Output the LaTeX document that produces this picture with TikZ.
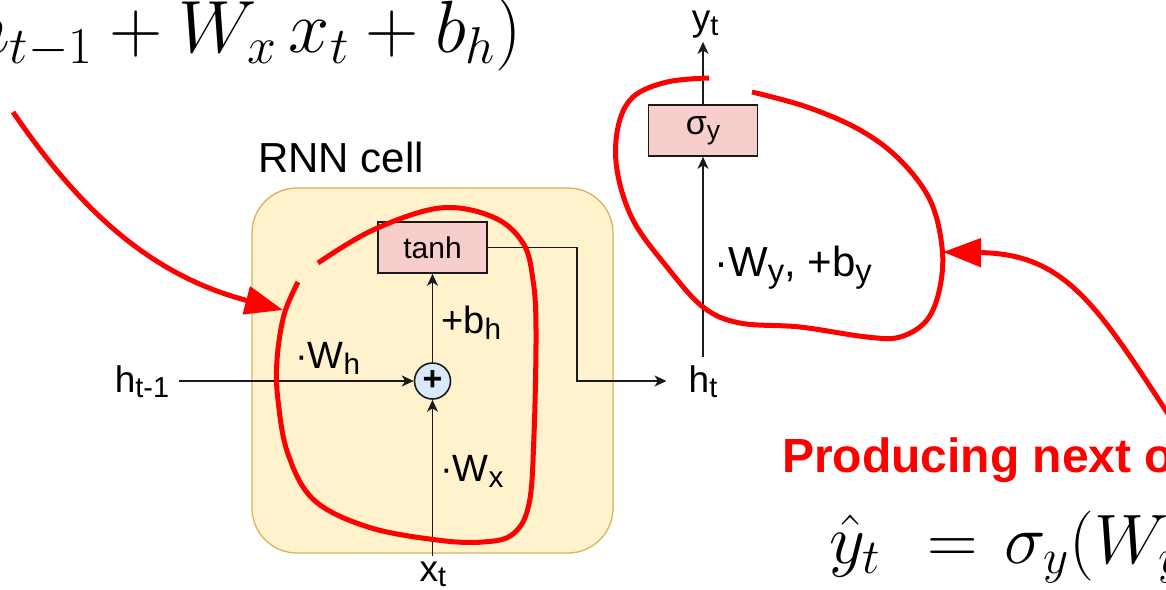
\documentclass[tikz,border=0pt]{standalone}
\usepackage{fix-cm}
\usepackage{amsmath}
\usepackage{graphicx}
\usepackage[no-math]{fontspec}
\newfontfamily\drawfont{Liberation Sans}
\usepackage{tikz}
\usetikzlibrary{arrows.meta, positioning, calc}

\definecolor{cellfill}{HTML}{FFF2CC}
\definecolor{celldraw}{HTML}{D6B656}
\definecolor{actfill}{HTML}{F8CECC}
\definecolor{sumfill}{HTML}{DAE8FC}
\definecolor{markred}{HTML}{FF0000}
\definecolor{inkgray}{HTML}{1A1A1A}

% lowered index in the label font
\newcommand{\lowsub}[1]{\raisebox{-0.3ex}{\scalebox{0.78}{#1}}}

\tikzset{
  cellbox/.style={
    draw=celldraw, fill=cellfill, rounded corners=45pt, line width=1.3pt
  },
  actbox/.style={
    draw=inkgray, fill=actfill, line width=1.6pt, inner sep=0pt,
    minimum width=109pt, minimum height=51pt,
    font=\drawfont\fontsize{30}{34}\selectfont
  },
  sumnode/.style={
    circle, draw=inkgray, fill=sumfill, line width=1.6pt,
    minimum size=36pt, inner sep=0pt,
    font=\drawfont\bfseries\fontsize{34}{34}\selectfont
  },
  flowarrow/.style={
    -{Stealth[length=12pt, width=11pt, inset=3.5pt]}, line width=1.6pt, draw=inkgray
  },
  varlabel/.style={
    font=\drawfont\fontsize{37}{40}\selectfont, inner sep=0pt, anchor=base
  },
  weightlabel/.style={
    font=\drawfont\fontsize{38}{42}\selectfont, inner sep=0pt, anchor=base west
  },
  eqlabel/.style={
    font=\fontsize{74}{84}\selectfont, inner sep=0pt
  },
  notelabel/.style={
    font=\drawfont\bfseries\fontsize{48}{52}\selectfont, text=markred, inner sep=0pt
  },
  redloop/.style={draw=markred, line width=5pt},
  redarrow/.style={
    draw=markred, line width=5pt, -{Triangle[length=38pt, width=28pt]}
  },
}

\begin{document}
\begin{tikzpicture}[x=1pt, y=-1pt]
  \path[use as bounding box] (0,0) rectangle (1166,589);
  \clip (0,0) rectangle (1166,589);

  % formulas and note (cut by the frame)
  \node[eqlabel, anchor=base east] (hformula) at (522,52)
    {$h_t = \tanh(W_h h_{t-1} + W_x\, x_t + b_h)$};
  \node[eqlabel, font=\fontsize{70}{80}\selectfont, anchor=base west] (yformula) at (829,563)
    {$\hat{y}_t \mkern7mu=\mkern2mu \sigma_y(W_y h_t + b_y)$};
  \node[notelabel, anchor=base west] (outnote) at (782,472) {Producing next output};

  % RNN cell
  \draw[cellbox] (252,188) rectangle (613,553);
  \node[font=\drawfont\fontsize{42}{46}\selectfont, anchor=base west, inner sep=0pt]
    (celltitle) at (258,172) {RNN cell};

  \node[actbox] (tanh) at (432.5,247.5) {tanh};
  \node[sumnode] (sum) at (432.5,381) {+};
  \node[actbox, font=\drawfont\fontsize{34}{38}\selectfont] (sigma) at (703,130.5) {σ\lowsub{y}};

  \node[varlabel] (hprev) at (142,392) {h\lowsub{t-1}};
  \node[varlabel] (xt) at (433,581) {x\lowsub{t}};
  \node[varlabel] (ht) at (703,392) {h\lowsub{t}};
  \node[varlabel] (yt) at (705,30) {y\lowsub{t}};

  \node[weightlabel] (wh) at (295,368) {·W\lowsub{h}};
  \node[weightlabel] (bh) at (441,333) {+b\lowsub{h}};
  \node[weightlabel] (wx) at (440,481) {·W\lowsub{x}};
  \node[weightlabel, font=\drawfont\fontsize{42}{46}\selectfont] (wy) at (714,276)
    {·W\lowsub{y}, +b\lowsub{y}};

  % data flow
  \coordinate (turn) at (577,381);
  \draw[flowarrow, shorten <=10pt] (hprev.east |- sum.west) -- (sum.west);
  \draw[flowarrow, shorten <=5pt] (xt.north -| sum) -- (sum.south);
  \draw[flowarrow] (sum.north) -- (tanh.south);
  \draw[flowarrow, shorten >=22pt] (tanh.east) -| (turn) -- (ht.west |- turn);
  \draw[flowarrow, shorten <=8pt] (ht.north -| sigma) -- (sigma.south);
  \draw[flowarrow, shorten >=4pt] (sigma.north) -- (yt.south -| sigma);

  % red marks
  \draw[redloop] plot[smooth, tension=0.6] coordinates {
    (298,282) (284,315) (277,360) (278,400) (288,454) (314,500) (368,527)
    (437,540) (483,542) (513,534) (529,504) (534,435) (536,330) (533,280)
    (523,243) (493,217) (440,208) (373,230) (318,263)};
  \draw[redloop] plot[smooth, tension=0.6] coordinates {
    (709,78) (667,82) (633,97) (618,127) (617,170) (633,220) (667,267)
    (703,307) (740,323) (800,327) (867,337) (900,337) (927,320) (940,287)
    (942,247) (930,200) (900,160) (860,130) (807,107) (752,92)};

  \coordinate (hmark) at (13,112);
  \coordinate (cellmark) at (283,310);
  \coordinate (outmark) at (1185,440);
  \coordinate (ymark) at (943,252);
  \draw[redarrow] (hmark) .. controls (80,210) and (150,275) .. (cellmark);
  \draw[redarrow] (outmark) .. controls (1100,310) and (1070,254) .. (ymark);
\end{tikzpicture}
\end{document}
